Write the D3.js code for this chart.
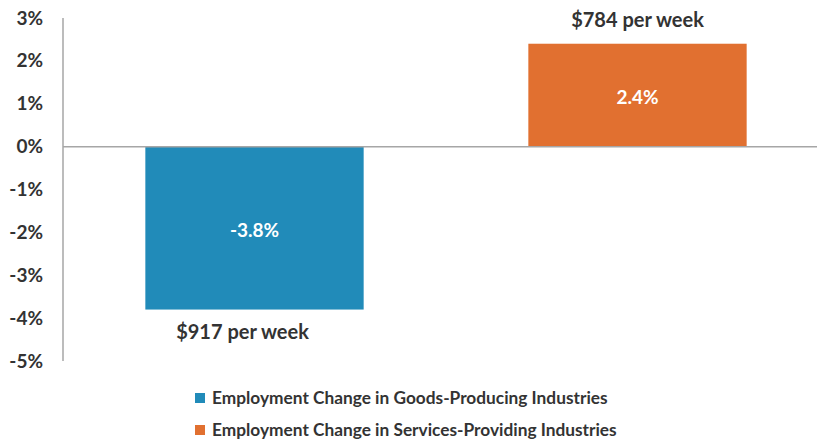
<!DOCTYPE html>
<html>
<head>
<meta charset="utf-8">
<script src="https://cdn.jsdelivr.net/npm/d3@7"></script>
<style>
  html, body { margin: 0; padding: 0; background: #fff; }
  svg { display: block; font-family: Lato, "Open Sans", sans-serif; font-weight: bold; }
</style>
</head>
<body>
<svg id="chart" width="817" height="442"></svg>
<script>
// Employment change by industry group, with average weekly earnings
const categories = ["Employment Change in Goods-Producing Industries",
                    "Employment Change in Services-Providing Industries"];
const values = [-3.8, 2.4];
const wageLabels = ["$917 per week", "$784 per week"];
const colors = ["#218bb9", "#e17030"];
const yTicks = [3, 2, 1, 0, -1, -2, -3, -4, -5];

const svg = d3.select("#chart");
const W = 817;

const y = d3.scaleLinear().domain([-5, 3]).range([361, 18]);
const x = d3.scaleBand().domain(categories).range([63, 829]).paddingInner(0.43).paddingOuter(0.215);

// y axis labels
const yAxis = d3.axisLeft(y).tickValues(yTicks).tickSize(0).tickPadding(20)
  .tickFormat(d => d + "%");
const gy = svg.append("g").attr("transform", "translate(63,0)").call(yAxis);
gy.select(".domain").remove();
gy.selectAll("text").attr("font-size", 19).attr("fill", "#333")
  .attr("font-family", "Lato, sans-serif").attr("font-weight", "bold");

// vertical axis line
svg.append("line").attr("x1", 63).attr("x2", 63).attr("y1", y(3)).attr("y2", y(-5))
  .attr("stroke", "#a6a6a6").attr("stroke-width", 1.5);

// bars
svg.selectAll("rect.bar").data(values).join("rect")
  .attr("class", "bar")
  .attr("x", (d, i) => x(categories[i]))
  .attr("width", x.bandwidth())
  .attr("y", d => y(Math.max(0, d)))
  .attr("height", d => Math.abs(y(d) - y(0)))
  .attr("fill", (d, i) => colors[i]);

// zero line
svg.append("line").attr("x1", 63).attr("x2", W).attr("y1", y(0)).attr("y2", y(0))
  .attr("stroke", "#a6a6a6").attr("stroke-width", 1.5);

// value labels inside bars
svg.selectAll("text.val").data(values).join("text")
  .attr("class", "val")
  .attr("x", (d, i) => x(categories[i]) + x.bandwidth() / 2)
  .attr("y", d => (y(d) + y(0)) / 2 + 2)
  .attr("dy", "0.35em")
  .attr("text-anchor", "middle")
  .attr("font-size", 19).attr("fill", "#fff")
  .text(d => d + "%");

// wage labels beyond bar ends
svg.selectAll("text.wage").data(values).join("text")
  .attr("class", "wage")
  .attr("x", (d, i) => x(categories[i]) + x.bandwidth() / 2 + (i === 0 ? -12 : 0))
  .attr("y", d => d < 0 ? y(d) + 22 : y(d) - 24)
  .attr("dy", "0.35em")
  .attr("text-anchor", "middle")
  .attr("font-size", 20).attr("fill", "#333")
  .text((d, i) => wageLabels[i]);

// legend
const legend = svg.append("g").attr("transform", "translate(195,398)");
const rows = legend.selectAll("g").data(categories).join("g")
  .attr("transform", (d, i) => `translate(0,${i * 32})`);
rows.append("rect").attr("x", 0).attr("y", -5).attr("width", 10).attr("height", 10)
  .attr("fill", (d, i) => colors[i]);
rows.append("text").attr("x", 17).attr("dy", "0.35em")
  .attr("font-size", 17.3).attr("fill", "#333")
  .text(d => d);
</script>
</body>
</html>
